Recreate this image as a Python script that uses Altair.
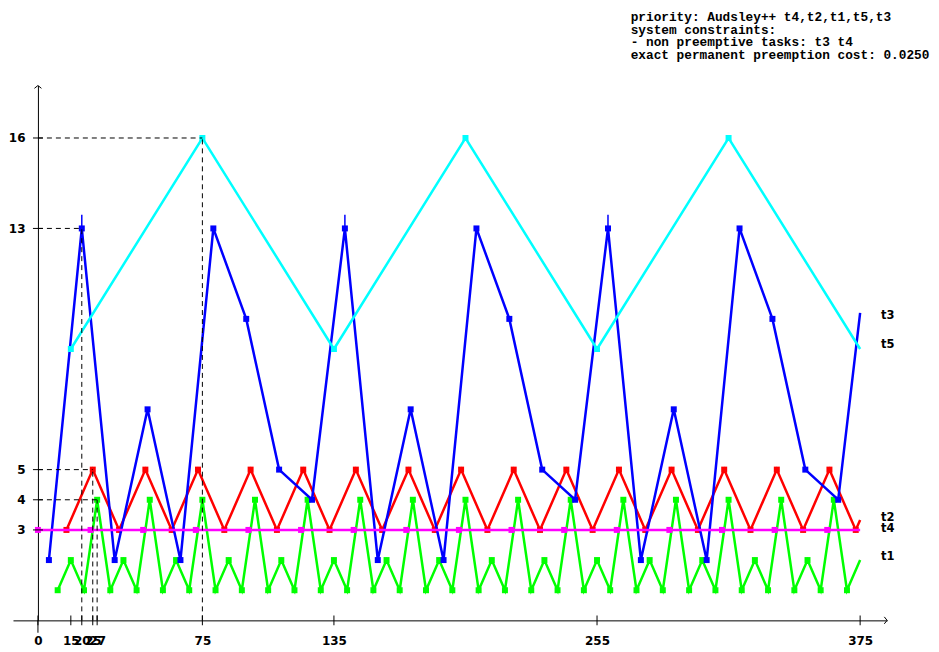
import altair as alt
import pandas as pd

# ---------------- data ----------------
t1_x = [9, 15, 21, 27, 33, 39, 45, 51, 57, 63, 69, 75, 81, 87, 93, 99, 105, 111, 117, 123,
        129, 135, 141, 147, 153, 159, 165, 171, 177, 183, 189, 195, 201, 207, 213, 219, 225,
        231, 237, 243, 249, 255, 261, 267, 273, 279, 285, 291, 297, 303, 309, 315, 321, 327,
        333, 339, 345, 351, 357, 363, 369, 375]
t1_y = [1, 2, 1, 4, 1, 2, 1, 4, 1, 2, 1, 4, 1, 2, 1, 4, 1, 2, 1, 4,
        1, 2, 1, 4, 1, 2, 1, 4, 1, 2, 1, 4, 1, 2, 1, 4, 1, 2, 1, 4,
        1, 2, 1, 4, 1, 2, 1, 4, 1, 2, 1, 4, 1, 2, 1, 4, 1, 2, 1, 4,
        1, 2]

t2_x = [13, 25, 37, 49, 61, 73, 85, 97, 109, 121, 133, 145, 157, 169, 181, 193, 205, 217,
        229, 241, 253, 265, 277, 289, 301, 313, 325, 337, 349, 361, 373, 375]
t2_y = [3, 5, 3, 5, 3, 5, 3, 5, 3, 5, 3, 5, 3, 5, 3, 5, 3, 5, 3, 5, 3, 5, 3, 5, 3, 5, 3, 5,
        3, 5, 3, 3.33]

t3_x = [5, 20, 35, 50, 65, 80, 95, 110, 125, 140, 155, 170, 185, 200, 215, 230, 245, 260,
        275, 290, 305, 320, 335, 350, 365, 375]
t3_y = [2, 13, 2, 7, 2, 13, 10, 5, 4, 13, 2, 7, 2, 13, 10, 5, 4, 13, 2, 7, 2, 13, 10, 5, 4,
        10.2]

t4_x = [0, 24, 48, 72, 96, 120, 144, 168, 192, 216, 240, 264, 288, 312, 336, 360, 375]
t4_y = [3, 3, 3, 3, 3, 3, 3, 3, 3, 3, 3, 3, 3, 3, 3, 3, 3]

t5_x = [15, 75, 135, 195, 255, 315, 375]
t5_y = [9, 16, 9, 16, 9, 16, 9]

spike_x = [20, 140, 260]
spike_lo = [13, 13, 13]
spike_hi = [13.45, 13.45, 13.45]

guide_x = [20, 25, 27, 75]
guide_y = [13, 5, 4, 16]

x_ticks = [0, 15, 20, 25, 27, 75, 135, 255, 375]
y_ticks = [3, 4, 5, 13, 16]

label_names = ["t3", "t5", "t2", "t4", "t1"]
label_y = [10.08, 9.13, 3.38, 3.04, 2.09]
label_x = [384.5, 384.5, 384.5, 384.5, 384.5]

info_lines = [
    "priority: Audsley++ t4,t2,t1,t5,t3",
    "system constraints:",
    "- non preemptive tasks: t3 t4",
    "exact permanent preemption cost: 0.0250",
]

x_domain = [-11.38, 387.3]
y_domain = [0, 17.74]
y_axis_bottom = -0.41

series = [
    ("t1", t1_x, t1_y, "#00ff00"),
    ("t2", t2_x, t2_y, "#ff0000"),
    ("t3", t3_x, t3_y, "#0000ff"),
    ("t4", t4_x, t4_y, "#ff00ff"),
    ("t5", t5_x, t5_y, "#00ffff"),
]

# ---------------- scales / axes ----------------
xs = alt.Scale(domain=x_domain, nice=False, zero=False)
ys = alt.Scale(domain=y_domain, nice=False, zero=False)

x_axis = alt.Axis(values=x_ticks, title=None, grid=False, ticks=False, tickSize=0,
                  labelPadding=20, labelBaseline="middle", labelFont="DejaVu Sans",
                  labelFontWeight="bold", labelFontSize=12, labelColor="black",
                  domainColor="black", domainWidth=1, labelOverlap=False,
                  labelFlush=False, labelBound=False)
y_axis = alt.Axis(values=y_ticks, title=None, grid=False, ticks=False, tickSize=0,
                  labelPadding=13, offset=-25, labelFont="DejaVu Sans",
                  labelFontWeight="bold", labelFontSize=12, labelColor="black",
                  domainColor="black", domainWidth=1, labelOverlap=False,
                  labelFlush=False, labelBound=False)


def X(f):
    return alt.X(f, type="quantitative", scale=xs, axis=x_axis)


def Y(f):
    return alt.Y(f, type="quantitative", scale=ys, axis=y_axis)


layers = []
for name, xv, yv, col in series:
    df = pd.DataFrame({"x": xv, "y": yv})
    base = alt.Chart(df)
    layers.append(base.mark_line(color=col, strokeWidth=2.5).encode(x=X("x"), y=Y("y")))
    layers.append(
        base.mark_point(shape="square", filled=True, size=36, color=col, opacity=1)
        .encode(x=X("x"), y=Y("y"))
        .transform_filter("datum.x < 375")
    )
    if name == "t3":
        sdf = pd.DataFrame({"sx": spike_x, "lo": spike_lo, "hi": spike_hi})
        layers.append(
            alt.Chart(sdf).mark_rule(color=col, strokeWidth=1.5)
            .encode(x=X("sx"), y=Y("lo"), y2="hi")
        )

# dashed guides
gdf = pd.DataFrame({"gx": guide_x, "gy": guide_y, "zero": [0] * len(guide_x)})
layers.append(
    alt.Chart(gdf).mark_rule(color="black", strokeWidth=1, strokeDash=[5, 4])
    .encode(x=X("zero"), x2="gx", y=Y("gy"))
)
layers.append(
    alt.Chart(gdf).mark_rule(color="black", strokeWidth=1, strokeDash=[5, 4])
    .encode(x=X("gx"), y=Y("zero"), y2="gy")
)

# axis ticks crossing the axes
xt = pd.DataFrame({"xt": x_ticks, "zero": [0] * len(x_ticks)})
layers.append(
    alt.Chart(xt).mark_tick(orient="vertical", size=10, thickness=1, color="black", opacity=1)
    .encode(x=X("xt"), y=Y("zero"))
)
yt = pd.DataFrame({"yt": y_ticks, "zero": [0] * len(y_ticks)})
layers.append(
    alt.Chart(yt).mark_tick(orient="horizontal", size=10, thickness=1, color="black", opacity=1)
    .encode(x=X("zero"), y=Y("yt"))
)

# y axis continuing a little below the x axis
ext = pd.DataFrame({"zero": [0], "bot": [y_axis_bottom]})
layers.append(
    alt.Chart(ext).mark_rule(color="black", strokeWidth=1)
    .encode(x=X("zero"), y=Y("zero"), y2="bot")
)

# arrow heads
ya = pd.DataFrame({"ax": [0], "ay": [y_domain[1]]})
layers.append(
    alt.Chart(ya).mark_point(shape="M-1,0.8L0,0L1,0.8", filled=False, size=49,
                             stroke="black", strokeWidth=1, opacity=1)
    .encode(x=X("ax"), y=Y("ay"))
)
xa = pd.DataFrame({"ax": [x_domain[1]], "ay": [0]})
layers.append(
    alt.Chart(xa).mark_point(shape="M-1,0.8L0,0L1,0.8", filled=False, size=49, angle=90,
                             stroke="black", strokeWidth=1, opacity=1)
    .encode(x=X("ax"), y=Y("ay"))
)

# series names at the right
ldf = pd.DataFrame({"lx": label_x, "ly": label_y, "name": label_names})
layers.append(
    alt.Chart(ldf).mark_text(align="left", baseline="middle", font="DejaVu Sans",
                             fontWeight="bold", fontSize=11.5, color="black")
    .encode(x=X("lx"), y=Y("ly"), text="name:N")
)

# info text top right
idf = pd.DataFrame({"txt": ["\n".join(info_lines)]})
layers.append(
    alt.Chart(idf).mark_text(align="left", baseline="alphabetic", font="Liberation Mono",
                             fontWeight="bold", fontSize=12.8, lineHeight=12.5,
                             lineBreak="\n", color="black")
    .encode(x=alt.value(619), y=alt.value(-64.3), text="txt:N")
)

chart = (
    alt.layer(*layers)
    .properties(width=876, height=536,
                autosize=alt.AutoSizeParams(type="none"),
                padding={"left": 5, "top": 77, "right": 44, "bottom": 27},
                background="white")
    .configure_view(stroke=None)
)

chart.save("out.html", embed_options={"renderer": "svg", "actions": False})
